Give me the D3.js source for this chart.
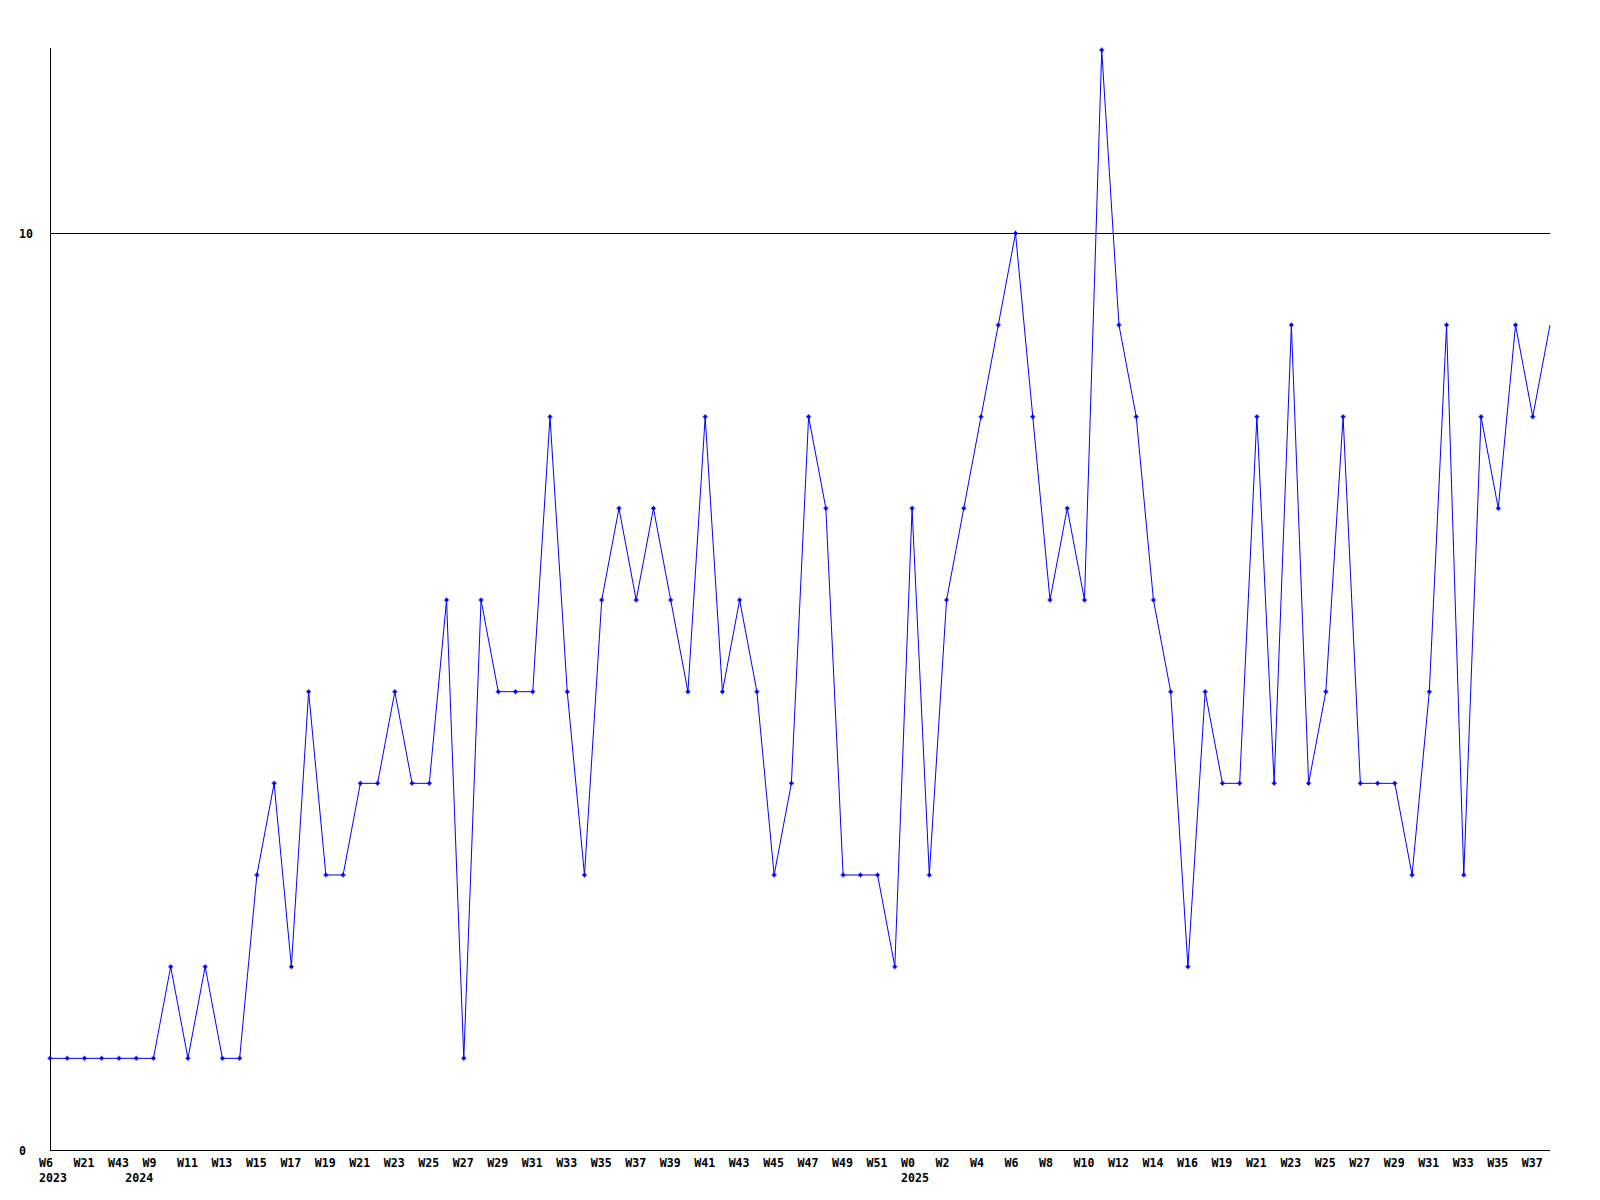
<!DOCTYPE html>
<meta charset="utf-8">
<head>
    <title>Weekly count</title>
    <script type="text/javascript" src="https://cdn.jsdelivr.net/npm/d3@7"></script>
    <style>
        body { margin: 0; background: #fff; }
        text { font-family: "DejaVu Sans Mono", monospace; font-weight: bold; font-size: 11.6px; fill: #000; }
    </style>
</head>
<body>
<script>

// data
var weeks = [6, 14, 21, 33, 43, 5,
    9, 10, 11, 12, 13, 14, 15, 16, 17, 18, 19, 20, 21, 22, 23, 24, 25, 26, 27, 28, 29, 30,
    31, 32, 33, 34, 35, 36, 37, 38, 39, 40, 41, 42, 43, 44, 45, 46, 47, 48, 49, 50, 51, 52,
    0, 1, 2, 3, 4, 5, 6, 7, 8, 9, 10, 11, 12, 13, 14, 15, 16, 17,
    19, 20, 21, 22, 23, 24, 25, 26, 27, 28, 29, 30, 31, 32, 33, 34, 35, 36, 37, 38]
var years = [2023, 2023, 2023, 2023, 2023,
    2024, 2024, 2024, 2024, 2024, 2024, 2024, 2024, 2024, 2024, 2024, 2024, 2024, 2024, 2024,
    2024, 2024, 2024, 2024, 2024, 2024, 2024, 2024, 2024, 2024, 2024, 2024, 2024, 2024, 2024,
    2024, 2024, 2024, 2024, 2024, 2024, 2024, 2024, 2024, 2024, 2024, 2024, 2024, 2024, 2024,
    2025, 2025, 2025, 2025, 2025, 2025, 2025, 2025, 2025, 2025, 2025, 2025, 2025, 2025, 2025,
    2025, 2025, 2025, 2025, 2025, 2025, 2025, 2025, 2025, 2025, 2025, 2025, 2025, 2025, 2025,
    2025, 2025, 2025, 2025, 2025, 2025, 2025, 2025]
var values = [1, 1, 1, 1, 1, 1, 1, 2, 1, 2,
    1, 1, 3, 4, 2, 5, 3, 3, 4, 4,
    5, 4, 4, 6, 1, 6, 5, 5, 5, 8,
    5, 3, 6, 7, 6, 7, 6, 5, 8, 5,
    6, 5, 3, 4, 8, 7, 3, 3, 3, 2,
    7, 3, 6, 7, 8, 9, 10, 8, 6, 7,
    6, 12, 9, 8, 6, 5, 2, 5, 4, 4,
    8, 4, 9, 4, 5, 8, 4, 4, 4, 3,
    5, 9, 3, 8, 7, 9, 8, 9]
var yTicks = [0, 10]

// svg
var w = 1600
var h = 1200
var padL = 50, padR = 1550, padT = 50, padB = 1150

var svg = d3.select("body").append("svg").attr("width", w).attr("height", h);

var x = d3.scaleLinear().domain([0, values.length - 1]).range([padL, padR])
var y = d3.scaleLinear().domain([0, 12]).range([padB, padT])

// gridline + y labels
svg.selectAll(".grid")
    .data(yTicks.filter(function(d) { return d > 0 })).enter()
    .append("line")
    .attr("x1", padL).attr("x2", padR)
    .attr("y1", function(d) { return Math.round(y(d)) + 0.5 }).attr("y2", function(d) { return Math.round(y(d)) + 0.5 })
    .style("stroke", "#000").style("stroke-width", 1)
    .attr("shape-rendering", "crispEdges")

svg.selectAll(".ylab")
    .data(yTicks).enter()
    .append("text")
    .attr("x", 19)
    .attr("y", function(d) { return y(d) + 4.5 })
    .text(function(d) { return d })

// axes
svg.append("line").attr("x1", padL + 0.5).attr("x2", padL + 0.5).attr("y1", padT - 2).attr("y2", padB)
    .style("stroke", "#000").style("stroke-width", 1).attr("shape-rendering", "crispEdges")
svg.append("line").attr("x1", padL).attr("x2", padR).attr("y1", padB + 0.5).attr("y2", padB + 0.5)
    .style("stroke", "#000").style("stroke-width", 1).attr("shape-rendering", "crispEdges")

// week labels (every other point)
var idx = d3.range(values.length)
svg.selectAll(".wlab")
    .data(idx.filter(function(i) { return i % 2 == 0 })).enter()
    .append("text")
    .attr("x", function(i) { return x(i) - 11 })
    .attr("y", padB + 17)
    .text(function(i) { return "W" + weeks[i] })

// year labels at first point of each year
svg.selectAll(".yrlab")
    .data(idx.filter(function(i) { return i == 0 || years[i] != years[i - 1] })).enter()
    .append("text")
    .attr("x", function(i) { return x(i) - 11 })
    .attr("y", padB + 32)
    .text(function(i) { return years[i] })

// line
var line = d3.line()
    .x(function(d, i) { return x(i) })
    .y(function(d) { return y(d) })
svg.append("path")
    .datum(values)
    .attr("d", line)
    .style("fill", "none")
    .style("stroke", "#0000ff")
    .style("stroke-width", 1)

// markers (last point has none)
var marker = "M-2.5,-0.5h5v1h-5z M-0.5,-2.5h1v5h-1z M-1.5,-1.5h3v3h-3z"
svg.selectAll(".mk")
    .data(values.slice(0, values.length - 1)).enter()
    .append("path")
    .attr("d", marker)
    .attr("transform", function(d, i) { return "translate(" + x(i) + "," + y(d) + ")" })
    .style("fill", "#0000ff")

</script>
</body>
</html>
